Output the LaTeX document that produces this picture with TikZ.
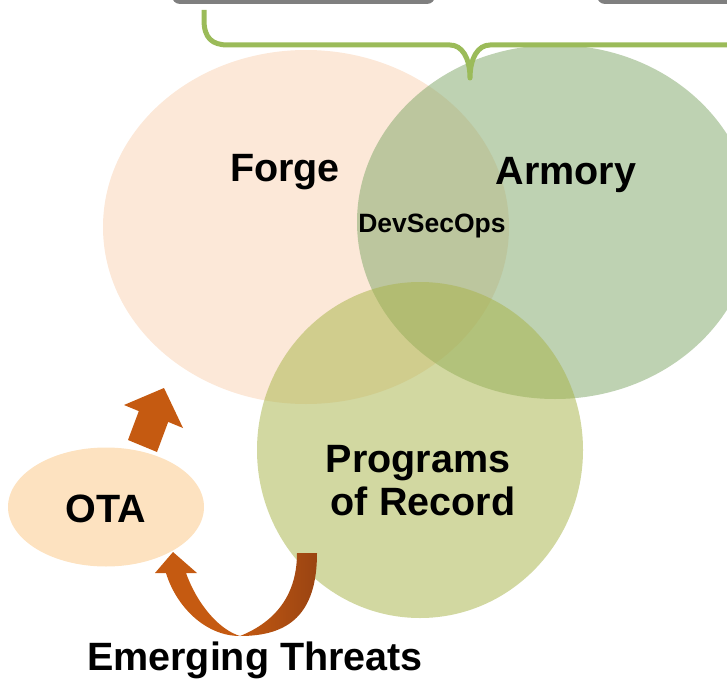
\documentclass[tikz,border=0pt]{standalone}
\usepackage{fontspec}
\setmainfont{Liberation Sans}
\usetikzlibrary{shapes.geometric}
\definecolor{forgec}{HTML}{F9D3B4}
\definecolor{armoryc}{HTML}{82A86B}
\definecolor{progc}{HTML}{A8B44A}
\definecolor{otac}{HTML}{FDE2C0}
\definecolor{bracec}{HTML}{9BBB59}
\definecolor{arrowc}{HTML}{C55A11}
\definecolor{arrowd}{HTML}{9A4412}
\definecolor{boxc}{HTML}{7F7F7F}
\begin{document}
\begin{tikzpicture}[x=1pt,y=-1pt,
  bigtxt/.style={font=\fontsize{39.5}{44}\selectfont\bfseries, anchor=base, inner sep=0pt},
  midtxt/.style={font=\fontsize{26.5}{30}\selectfont\bfseries, anchor=base, inner sep=0pt},
  venn/.style={fill opacity=0.52, draw=none}]
\useasboundingbox (0,0) rectangle (727,679);
\clip (0,0) rectangle (727,679);
% top gray boxes
\fill[boxc, rounded corners=8pt] (172,-30) rectangle (435,4);
\fill[boxc, rounded corners=8pt] (597,-30) rectangle (760,4);
% venn ellipses
\fill[forgec, venn] (306,227) ellipse [x radius=203, y radius=177];
\fill[armoryc, venn] (555,222) ellipse [x radius=198, y radius=177];
\fill[progc, venn] (420,450) ellipse [x radius=163, y radius=168];
% OTA
\node[ellipse, fill=otac, minimum width=196pt, minimum height=119pt, inner sep=0pt] (ota) at (106,507) {};
% brace
\coordinate (bl) at (204,10);
\coordinate (bt) at (470,78);
\coordinate (br) at (727,45);
\draw[bracec, line width=5pt, line join=round] (bl) -- (204,20) .. controls (204,38) and (212,45) .. (228,45) -- (450,45) .. controls (462,45) and (470,58) .. (bt) .. controls (470,58) and (478,45) .. (490,45) -- (br);
% labels
\node[bigtxt] (forge) at (285,181) {Forge};
\node[bigtxt] (armory) at (566,184) {Armory};
\node[midtxt] (dso) at (432,232) {DevSecOps};
\node[bigtxt] (prog1) at (418,472) {Programs};
\node[bigtxt] (prog2) at (423,515) {of Record};
\node[bigtxt] (otat) at (106,522) {OTA};
\node[bigtxt] (emt) at (255,670) {Emerging Threats};
% up arrow
\fill[arrowc] (164,388) -- (183,428) -- (168.2,421.9) -- (157,452) -- (128,440) -- (138.8,411.1) -- (124,405) -- cycle;
% curved arrow
\shade[left color=arrowc, right color=arrowd, middle color=arrowc]
  (317,553) .. controls (317,615) and (288,636) .. (240,636)
  .. controls (205,636) and (176,606) .. (166,573)
  -- (155,573) -- (173,552) -- (197,573) -- (186,573)
  .. controls (198,606) and (220,630) .. (240,636)
  .. controls (270,624) and (297,600) .. (297,553) -- cycle;
\end{tikzpicture}
\end{document}
